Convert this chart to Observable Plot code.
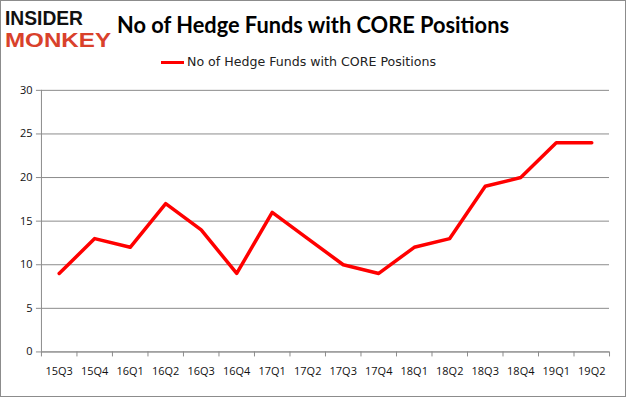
<!DOCTYPE html>
<html><head><meta charset="utf-8">
<script src="https://cdn.jsdelivr.net/npm/d3@7"></script>
<script src="https://cdn.jsdelivr.net/npm/@observablehq/plot@0.6"></script>
<style>
html,body{margin:0;padding:0;background:#fff;}
#wrap{position:relative;width:624px;height:395px;border:1px solid #8c8c8c;overflow:hidden;background:#fff;}
#chart{position:absolute;left:-1px;top:-1px;}
.logo{position:absolute;left:4px;font-family:"Liberation Sans",Arial,sans-serif;font-weight:bold;font-size:19.5px;line-height:21px;height:21px;transform-origin:left top;white-space:nowrap;}
#title{position:absolute;left:116px;top:10px;font-family:Lato,"Open Sans",sans-serif;font-weight:bold;font-size:22px;color:#000;white-space:nowrap;transform-origin:left top;}
#legend{position:absolute;left:160px;top:54px;font-family:"DejaVu Sans",sans-serif;font-size:11.5px;color:#222;white-space:nowrap;display:flex;align-items:center;}
#legend span.sw{display:inline-block;width:23px;height:3px;background:#ff0000;margin-right:3px;}
#legtext{display:inline-block;transform-origin:left center;}
</style>
</head><body>
<div id="wrap">
<div id="chart"></div>
<div class="logo" id="logo1" style="top:7px;color:#111;">INSIDER</div>
<div class="logo" id="logo2" style="top:29px;color:#d9412b;">MONKEY</div>
<div id="title">No of Hedge Funds with CORE Positions</div>
<div id="legend"><span class="sw"></span><span id="legtext">No of Hedge Funds with CORE Positions</span></div>
</div>
<script>
const quarters = ["15Q3","15Q4","16Q1","16Q2","16Q3","16Q4","17Q1","17Q2","17Q3","17Q4","18Q1","18Q2","18Q3","18Q4","19Q1","19Q2"];
const funds = [9,13,12,17,14,9,16,13,10,9,12,13,19,20,24,24];
const yTicks = [0,5,10,15,20,25,30];

const data = quarters.map((q,i)=>({i: i+0.5, q, v: funds[i]}));
const edges = d3.range(0, quarters.length+1);
const centers = quarters.map((q,i)=>i+0.5);

const chart = Plot.plot({
  width: 626, height: 397,
  marginLeft: 41, marginRight: 16, marginTop: 90, marginBottom: 45,
  style: {fontFamily: "'Open Sans', sans-serif", fontSize: "11px", color: "#111", background: "transparent"},
  x: {type: "linear", domain: [0, quarters.length]},
  y: {domain: [0, 30]},
  marks: [
    Plot.gridY(yTicks, {stroke: "#8c8c8c", strokeOpacity: 1, strokeWidth: 1}),
    Plot.ruleX([0], {stroke: "#8c8c8c"}),
    Plot.ruleY([0], {stroke: "#8c8c8c"}),
    Plot.axisY(yTicks, {tickSize: 5, stroke: "#8c8c8c", tickPadding: 4, label: null, fill: "#111"}),
    Plot.axisX(edges, {tickSize: 5, stroke: "#8c8c8c", tickFormat: () => "", label: null}),
    Plot.axisX(centers, {tickSize: 0, tickPadding: 15, tickFormat: d => quarters[Math.floor(d)], label: null, fill: "#111"}),
    Plot.line(data, {x: "i", y: "v", stroke: "#ff0000", strokeWidth: 3.5, strokeLinejoin: "round"})
  ]
});
document.getElementById("chart").appendChild(chart);
function fitW(id, target){
  const el = document.getElementById(id);
  const w = el.getBoundingClientRect().width;
  el.style.transform = `scaleX(${target / w})`;
}
fitW("title", 392);
fitW("logo1", 78);
fitW("logo2", 106);
fitW("legtext", 249);
</script>
</body></html>
